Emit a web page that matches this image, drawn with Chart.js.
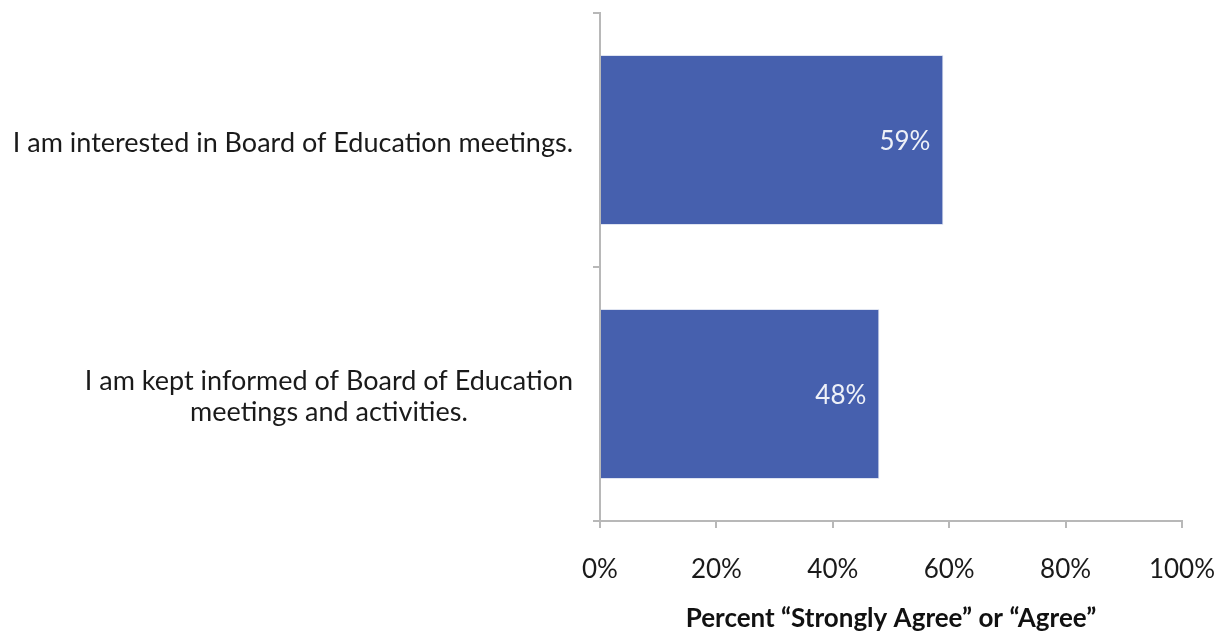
<!DOCTYPE html>
<html>
<head>
<meta charset="utf-8">
<script src="https://cdn.jsdelivr.net/npm/chart.js@4"></script>
<style>
  html, body { margin: 0; padding: 0; background: #fff; }
  #wrap { width: 1217px; height: 635px; }
</style>
</head>
<body>
<div id="wrap"><canvas id="myChart" width="1217" height="635"></canvas></div>
<script>
// chart values
var categories = [
    ['I am interested in Board of Education meetings.'],
    ['I am kept informed of Board of Education', 'meetings and activities.']
];
var values = [59, 48];
var xTicks = [0, 20, 40, 60, 80, 100];
var xTitle = 'Percent \u201CStrongly Agree\u201D or \u201CAgree\u201D';

var FONT = 'Lato, "Open Sans", sans-serif';
var axisColor = '#b8b8b8';

// y labels: block right aligned, lines centred inside the block
var yLabelPlugin = {
    id: 'yLabels',
    afterDraw: function(chart) {
        var ctx = chart.ctx;
        var scale = chart.scales.y;
        ctx.save();
        ctx.font = '27px ' + FONT;
        ctx.fillStyle = '#1a1a1a';
        ctx.textAlign = 'center';
        ctx.textBaseline = 'middle';
        var lineH = 31;
        categories.forEach(function(lines, i) {
            var w = 0;
            lines.forEach(function(l) { w = Math.max(w, ctx.measureText(l).width); });
            var right = scale.right - 27;
            var cx = right - w / 2;
            var y0 = scale.getPixelForValue(i) - (lines.length - 1) * lineH / 2 + 3;
            lines.forEach(function(l, k) {
                ctx.fillText(l, cx, y0 + k * lineH);
            });
        });
        ctx.restore();
    }
};

// value labels inside the bars
var valueLabelPlugin = {
    id: 'valueLabels',
    afterDatasetsDraw: function(chart) {
        var ctx = chart.ctx;
        var meta = chart.getDatasetMeta(0);
        ctx.save();
        ctx.font = '26px ' + FONT;
        ctx.fillStyle = '#eef1f8';
        ctx.textAlign = 'right';
        ctx.textBaseline = 'middle';
        meta.data.forEach(function(bar, i) {
            ctx.fillText(values[i] + '%', bar.x - 13, bar.y + 2);
        });
        ctx.restore();
    }
};

var graphData = {
    type: 'bar',
    data: {
        labels: categories,
        datasets: [{
            data: values,
            backgroundColor: '#4660ae',
            borderColor: '#dfe4f1',
            borderWidth: 1,
            categoryPercentage: 1,
            barPercentage: 0.67
        }]
    },
    options: {
        indexAxis: 'y',
        responsive: false,
        animation: false,
        layout: { padding: { top: 13, right: 35, left: 0, bottom: 0 } },
        plugins: {
            legend: { display: false },
            tooltip: { enabled: false }
        },
        scales: {
            x: {
                min: 0,
                max: 100,
                afterBuildTicks: function(scale) {
                    scale.ticks = xTicks.map(function(v) { return { value: v }; });
                },
                afterFit: function(scale) {
                    scale.height = 114;
                    scale.paddingLeft = 0;
                    scale.paddingRight = 0;
                },
                grid: {
                    drawOnChartArea: false,
                    tickLength: 7,
                    color: axisColor,
                    lineWidth: 2
                },
                border: { color: axisColor, width: 2 },
                ticks: {
                    padding: 26,
                    color: '#1a1a1a',
                    font: { family: FONT, size: 26 },
                    maxRotation: 0,
                    callback: function(value) { return value + '%'; }
                },
                title: {
                    display: true,
                    text: xTitle,
                    color: '#111',
                    font: { family: FONT, size: 26, weight: 'bold' },
                    padding: { top: 4, bottom: 1 }
                }
            },
            y: {
                afterFit: function(scale) { scale.width = 600; },
                grid: {
                    offset: true,
                    drawOnChartArea: false,
                    tickLength: 7,
                    color: axisColor,
                    lineWidth: 2
                },
                border: { color: axisColor, width: 2 },
                ticks: { display: false }
            }
        }
    },
    plugins: [yLabelPlugin, valueLabelPlugin]
};

var ctx = document.getElementById('myChart').getContext('2d');
var myChart = new Chart(ctx, graphData);
</script>
</body>
</html>
